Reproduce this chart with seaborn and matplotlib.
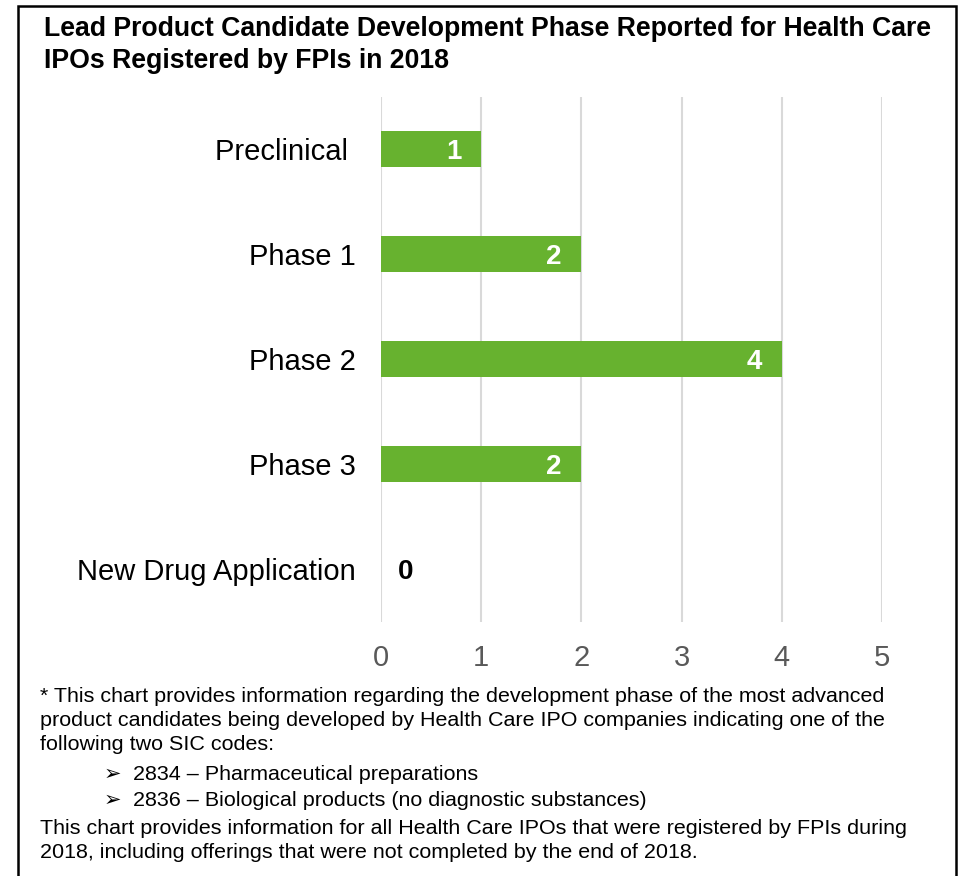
import matplotlib
matplotlib.use("Agg")
import matplotlib.pyplot as plt
import seaborn as sns
import pandas as pd

# Datos del grafico
fases = ["Preclinical ", "Phase 1", "Phase 2", "Phase 3", "New Drug Application"]
conteos = [1, 2, 4, 2, 0]
ticks_x = [0, 1, 2, 3, 4, 5]

titulo = ["Lead Product Candidate Development Phase Reported for Health Care",
          "IPOs Registered by FPIs in 2018"]
nota = [
    "* This chart provides information regarding the development phase of the most advanced",
    "product candidates being developed by Health Care IPO companies indicating one of the",
    "following two SIC codes:",
]
vinetas = ["2834 \u2013 Pharmaceutical preparations",
           "2836 \u2013 Biological products (no diagnostic substances)"]
nota_final = [
    "This chart provides information for all Health Care IPOs that were registered by FPIs during",
    "2018, including offerings that were not completed by the end of 2018.",
]

sns.set_style("white")
plt.rcParams["font.family"] = ["Liberation Sans", "DejaVu Sans"]
plt.rcParams["text.color"] = "black"

df = pd.DataFrame({"fase": fases, "conteo": conteos})

fig = plt.figure(figsize=(9.62, 8.76), dpi=100)
ax = fig.add_axes([0.396, 0.2905, 0.521, 0.5993])

sns.barplot(data=df, x="conteo", y="fase", orient="h", color="#67b22f",
            saturation=1, width=0.343, linewidth=0, ax=ax)

ax.set_xlim(0, 5)
ax.set_xticks(ticks_x)
ax.set_xticklabels([str(t) for t in ticks_x])
ax.set_xlabel("")
ax.set_ylabel("")
ax.grid(axis="x", color="#d9d9d9", linewidth=1.5)
ax.set_axisbelow(True)
for s in ax.spines.values():
    s.set_visible(False)
ax.tick_params(axis="x", labelsize=21, labelcolor="#595959", length=0, pad=16)
ax.tick_params(axis="y", labelsize=21, labelcolor="black", length=0, pad=18)

# Etiquetas de valores
for i, v in enumerate(conteos):
    if v > 0:
        ax.annotate(str(v), (v, i), xytext=(-14, -2), textcoords="offset points",
                    ha="right", va="center", color="white", fontsize=20,
                    fontweight="bold")
    else:
        ax.annotate(str(v), (v, i), xytext=(18, -2), textcoords="offset points",
                    ha="center", va="center", color="black", fontsize=20,
                    fontweight="bold")

# Titulo
H = 876.0
W = 962.0
fig.text(44 / W, 1 - 29 / H, titulo[0], fontsize=19.15, fontweight="bold",
         va="center", ha="left")
fig.text(44 / W, 1 - 61 / H, titulo[1], fontsize=19.15, fontweight="bold",
         va="center", ha="left")

# Nota al pie
for linea, y in zip(nota, [697, 720, 744]):
    fig.text(40 / W, 1 - y / H, linea, fontsize=15.45, va="center", ha="left")
for linea, y in zip(vinetas, [774, 800]):
    fig.text(104 / W, 1 - y / H, "\u27a2", fontsize=15, va="center", ha="left",
             family=["DejaVu Sans"])
    fig.text(133 / W, 1 - y / H, linea, fontsize=15.45, va="center", ha="left")
for linea, y in zip(nota_final, [829, 853]):
    fig.text(40 / W, 1 - y / H, linea, fontsize=15.45, va="center", ha="left")

# Marco
marco = plt.Rectangle((18 / W, -0.05), (956 - 18) / W, 1.05 - 6 / H,
                      transform=fig.transFigure, fill=False, edgecolor="black",
                      linewidth=1.8)
fig.patches.append(marco)

fig.savefig("out.png", dpi=100)
